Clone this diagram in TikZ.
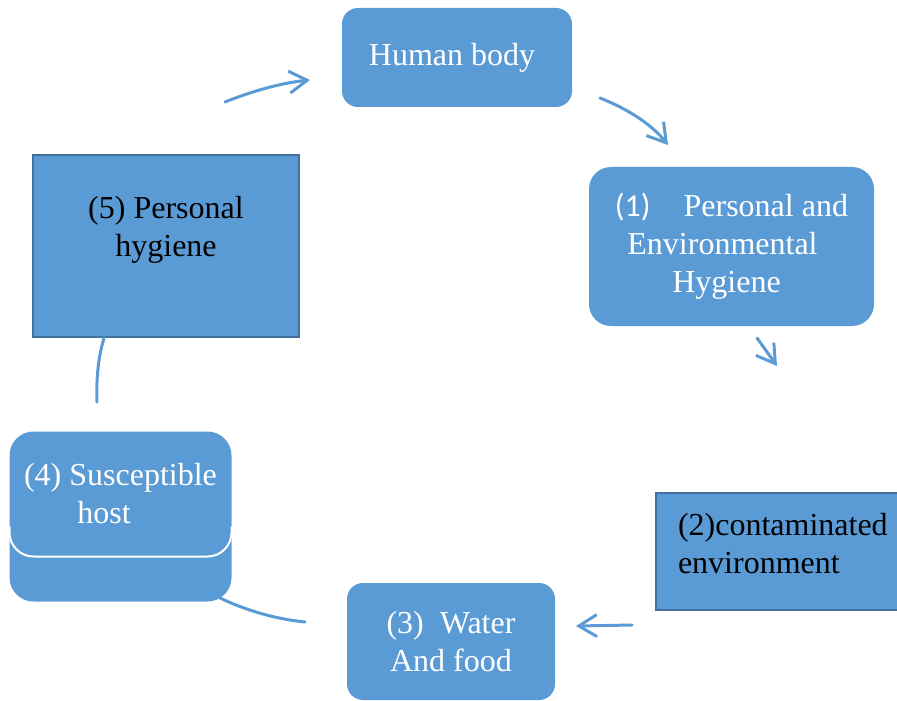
\documentclass[tikz,border=0pt]{standalone}
\usepackage{fontspec}
\setmainfont{Liberation Serif}
\newfontfamily\numfont{Carlito}
\usetikzlibrary{arrows.meta,backgrounds}
\definecolor{cellblue}{HTML}{5B9BD5}
\definecolor{edgeblue}{HTML}{41719C}

\begin{document}
\begin{tikzpicture}[x=0.5pt,y=-0.5pt,line width=1.5pt,
    roundbox/.style={fill=cellblue,rounded corners=8pt,text=white,align=center,
      font=\fontsize{16}{19}\selectfont},
    flatbox/.style={fill=cellblue,draw=edgeblue,line width=1pt,text=black,
      font=\fontsize{16}{19}\selectfont},
    link/.style={draw=cellblue,line cap=round},
    linkarrow/.style={link,-{Straight Barb[length=9pt,width=11pt]}}]

  \useasboundingbox (0,0) rectangle (897,700);
  \clip (0,0) rectangle (897,700);

  % The boxes of the cycle
  \node[roundbox,minimum width=115pt,minimum height=49.5pt] (body) at (457,57.5) {Human body\hspace*{5pt}};
  \node[roundbox,rounded corners=11pt,minimum width=142.5pt,minimum height=79.5pt] (hygiene) at (731.5,246.5)
    {{\numfont (1)}\hspace{16.5pt}Personal and\\Environmental\hspace*{9pt}\mbox{}\\Hygiene\hspace*{5pt}};
  \node[flatbox,anchor=north west,minimum width=130pt,minimum height=58.5pt,text width=108pt,
    inner xsep=11pt,align=left,text depth=27pt] (environment) at (655,492) {(2)contaminated\\environment};
  \node[roundbox,minimum width=104pt,minimum height=58.5pt] (water) at (451,641.5) {(3)\ \ Water\\And food};
  \node[roundbox,rounded corners=12pt,minimum width=109.5pt,minimum height=61pt]
    (host) at (120.5,494) {(4) Susceptible\\host\hspace*{16.5pt}};
  \node[flatbox,minimum width=133pt,minimum height=91pt,align=center,text depth=20pt] (personal) at (166,246)
    {(5) Personal\\hygiene};

  % The lower part of the host box
  \begin{scope}[on background layer]
    \fill[cellblue,rounded corners=12pt] (host.north west) rectangle ([yshift=-22.5pt]host.south east);
  \end{scope}
  \draw[white,line width=1pt,rounded corners=12pt]
    ([yshift=15pt]host.south west) |- (host.south) -| ([yshift=15pt]host.south east);

  % The links between them
  \coordinate (bodyout) at (600,98);
  \coordinate (hygienein) at (668,145);
  \coordinate (hygieneout) at (757,338);
  \coordinate (environmentin) at (777,366);
  \coordinate (environmentout) at (632,625);
  \coordinate (waterin) at (576,626);
  \coordinate (waterout) at (305,622);
  \coordinate (hostin) at (220,598);
  \coordinate (hostout) at (97,402);
  \coordinate (personalin) at (104,338);
  \coordinate (personalout) at (225,102);
  \coordinate (bodyin) at (310,80);

  \draw[linkarrow] (bodyout) .. controls (630,110) and (652,125) .. (hygienein);
  \draw[linkarrow] (hygieneout) -- (environmentin);
  \draw[linkarrow] (environmentout) -- (waterin);
  \draw[link] (waterout) .. controls (275,619) and (245,610) .. (hostin);
  \draw[link] (hostout) .. controls (96,375) and (99,355) .. (personalin);
  \draw[linkarrow] (personalout) .. controls (250,92) and (280,83) .. (bodyin);

\end{tikzpicture}
\end{document}
